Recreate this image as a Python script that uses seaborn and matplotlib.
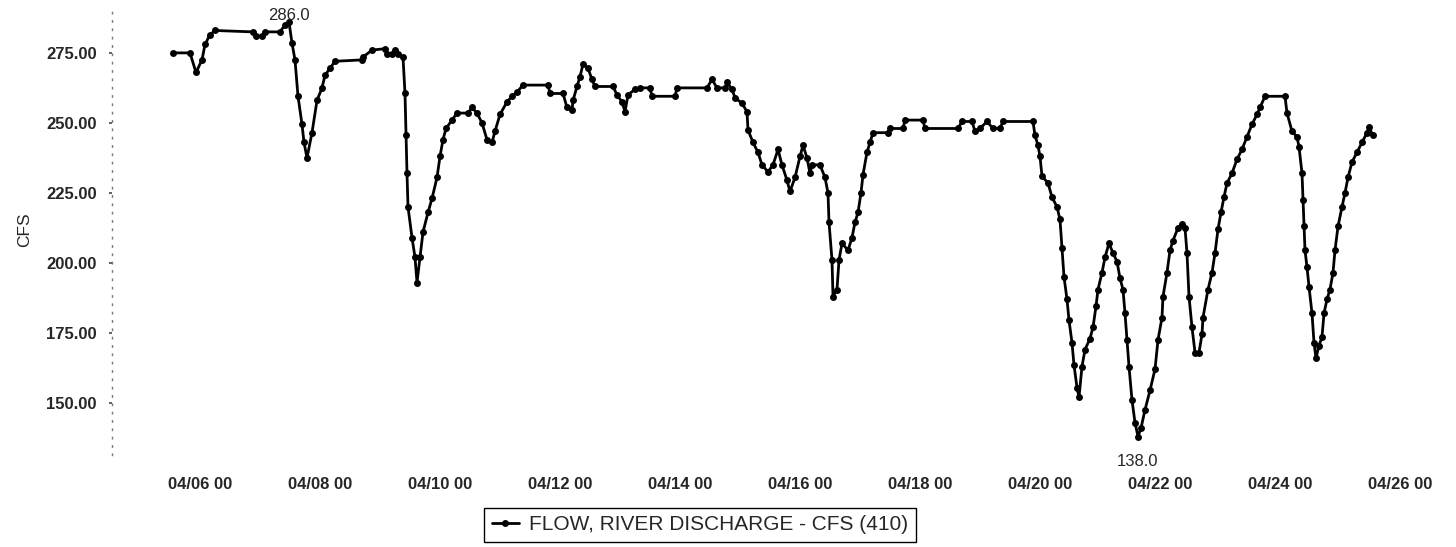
import numpy as np
import pandas as pd
import matplotlib
matplotlib.use('Agg')
import matplotlib.pyplot as plt
import seaborn as sns

# hourly river flow, hours counted from 04/05 00:00
hours = [13.2, 20, 22.4, 24.8, 26, 28, 30, 45.2, 46.4, 48.8, 50, 56, 58, 59.6, 60.8, 62, 63.2, 64.8, 65.6, 66.8,
         68.8, 70.8, 72.8, 74, 76, 78, 88.8, 89.2, 92.8, 98, 98.8, 100.8, 102, 103.2, 105.2, 106, 106.4, 106.8, 107.2, 108.8,
         110, 110.8, 112, 113.2, 115.2, 116.8, 118.8, 120, 121.2, 122.4, 124.8, 126.8, 131.2, 132.8, 134.8, 136.8, 138.8, 140.8, 142, 144,
         146.8, 148.8, 150.8, 153.2, 163.2, 164, 169.2, 170.8, 172.8, 173.2, 174.8, 176, 177.2, 179.2, 180.8, 182, 189.2, 190.8, 192.8, 194,
         195.2, 198, 200, 204, 204.8, 214, 214.8, 226.8, 228.8, 230.8, 234, 234.8, 236.8, 238, 240.8, 242.8, 243.2, 245.2, 247.2, 248.8,
         251.2, 253.2, 255.2, 256.8, 258.8, 260, 262, 264, 265.2, 266.8, 268, 268.8, 272, 274, 275.2, 275.6, 276.8, 277.2, 278.8, 279.6,
         280.8, 283.2, 284.8, 286, 287.2, 288.4, 289.2, 290.8, 292, 293.2, 299.2, 300, 305.2, 306, 313.2, 314, 327.2, 328.8, 332.8, 334,
         336, 338.8, 341.2, 344, 345.2, 357.2, 358, 359.2, 360, 360.8, 363.2, 364.8, 366.8, 368, 368.8, 369.6, 370.8, 371.6, 372.8, 373.6,
         374.8, 375.6, 376.8, 378, 380, 381.2, 382.4, 383.2, 384.8, 386, 387.6, 389.2, 390.8, 392, 393.2, 394, 394.8, 395.6, 396.8, 398,
         399.2, 400.4, 402, 404, 406, 407.2, 408.8, 409.2, 410.8, 412, 413.2, 415.2, 416.8, 418, 418.8, 419.6, 420.8, 422, 423.6, 424.8,
         425.2, 427.2, 428.8, 430, 431.2, 432.4, 433.6, 434.8, 436.8, 438.8, 440.8, 442.8, 444.8, 446.8, 448, 450, 458, 458.8, 460.8, 462.8,
         463.6, 464.8, 465.2, 465.6, 466, 466.8, 467.6, 468.8, 469.6, 470.4, 471.6, 472.8, 473.6, 474.8, 476, 477.2, 478, 479.2, 480.8, 482,
         483.2, 484.8, 486.8, 488.8, 490.8, 491.6, 493.2]
cfs = [275, 275, 268, 272.5, 278, 281.5, 283, 282.5, 281, 281, 282.5, 282.5, 285, 286, 278.5, 272.5, 259.5, 249.5, 243, 237.5,
       246.5, 258, 262.5, 267, 269.5, 272, 272.5, 273.5, 276, 276.5, 274.5, 274.5, 276, 274.5, 273.5, 260.5, 245.5, 232, 220, 209,
       202, 193, 202, 211, 218, 223, 230.5, 238, 244, 248, 251, 253.5, 253.5, 255.5, 253.5, 250, 244, 243, 247, 253,
       257.5, 259.5, 261, 263.5, 263.5, 260.5, 260.5, 255.5, 254.5, 258, 263, 266.5, 271, 269.5, 265.5, 263, 263, 260, 257.5, 254,
       260, 262, 262.5, 262.5, 259.5, 259.5, 262.5, 262.5, 265.5, 262.5, 262.5, 264.5, 262, 259, 257, 254, 247.5, 243, 239.5, 235,
       232.5, 235, 240.5, 235, 229.5, 225.5, 230.5, 238, 242, 237.5, 232, 235, 235, 230.5, 225, 214.5, 201, 188, 190.5, 201,
       207, 204.5, 209, 214.5, 218, 225, 231.5, 239.5, 243, 246.5, 246.5, 248, 248, 251, 251, 248, 248, 250.5, 250.5, 247,
       248, 250.5, 248, 248, 250.5, 250.5, 245.5, 242, 238, 231, 228.5, 223.5, 220, 215.5, 205.5, 195, 187, 179.5, 171.5, 163.5,
       155.5, 152, 163, 169, 173, 177, 184.5, 190.5, 196.5, 202, 207, 203.5, 200.5, 194.5, 190.5, 182, 172.5, 163, 151, 143,
       138, 141, 147.5, 154.5, 162, 172.5, 180.5, 188, 196.5, 204.5, 208, 212.5, 214, 212.5, 203.5, 188, 177, 168, 168, 174.5,
       180.5, 190.5, 196.5, 203.5, 212, 218, 223.5, 228.5, 232, 237, 240.5, 245, 249.5, 253, 255.5, 259.5, 259.5, 253.5, 247, 245,
       241.5, 232, 222.5, 213, 204.5, 198.5, 191.5, 182, 171.5, 166, 170.5, 173.5, 182, 187, 190.5, 196.5, 204.5, 213, 220, 225,
       230.5, 236, 239.5, 243, 246.5, 248.5, 245.5]

tick_hours = [24, 72, 120, 168, 216, 264, 312, 360, 408, 456, 504]
tick_labels = ['04/06 00', '04/08 00', '04/10 00', '04/12 00', '04/14 00', '04/16 00',
               '04/18 00', '04/20 00', '04/22 00', '04/24 00', '04/26 00']
y_ticks = [150, 175, 200, 225, 250, 275]
series_name = 'FLOW, RIVER DISCHARGE - CFS (410)'

df = pd.DataFrame({'hour': hours, 'cfs': cfs})

sns.set_style('white')
plt.rcParams['font.family'] = ['Liberation Sans', 'DejaVu Sans']

fig = plt.figure(figsize=(14.56, 5.47), dpi=100)
ax = fig.add_axes([112 / 1456, 92 / 547, 1328 / 1456, 450 / 547])

sns.lineplot(data=df, x='hour', y='cfs', sort=False, color='black', linewidth=2,
             marker='o', markersize=5, markeredgewidth=0, label=series_name, ax=ax)

ax.set_xlim(-11.2, 520)
ax.set_ylim(131.4, 292.1)
ax.set_xticks(tick_hours)
ax.set_xticklabels(tick_labels, fontweight='bold')
ax.set_yticks(y_ticks)
ax.set_yticklabels([f'{v:.2f}' for v in y_ticks], fontweight='bold')
ax.tick_params(axis='x', length=0, pad=16, labelsize=12)
ax.tick_params(axis='y', length=2, width=1.2, color='#444444', pad=9, labelsize=12, left=True)
ax.set_xlabel('')
ax.set_ylabel('CFS', fontsize=12.5, labelpad=10)

for side in ['top', 'right', 'bottom']:
    ax.spines[side].set_visible(False)
ax.spines['left'].set_linestyle((0, (1, 5)))
ax.spines['left'].set_color('#777777')
ax.spines['left'].set_linewidth(1)

# max / min labels
i_max = int(np.argmax(cfs))
i_min = int(np.argmin(cfs))
ax.annotate(f'{cfs[i_max]:.1f}', (hours[i_max], cfs[i_max]), xytext=(0, 5),
            textcoords='offset points', ha='center', va='center', fontsize=12, annotation_clip=False)
ax.annotate(f'{cfs[i_min]:.1f}', (hours[i_min], cfs[i_min]), xytext=(0, -18),
            textcoords='offset points', ha='center', va='center', fontsize=12, annotation_clip=False)

leg = ax.legend(loc='upper center', bbox_to_anchor=(700 / 1456, 1 - 508 / 547),
                bbox_transform=fig.transFigure, frameon=True, fancybox=False,
                edgecolor='black', framealpha=1, handlelength=1.3, handletextpad=0.5,
                borderpad=0.35, borderaxespad=0, fontsize=15)
leg.get_frame().set_linewidth(1)

fig.savefig('out.png', dpi=100)
